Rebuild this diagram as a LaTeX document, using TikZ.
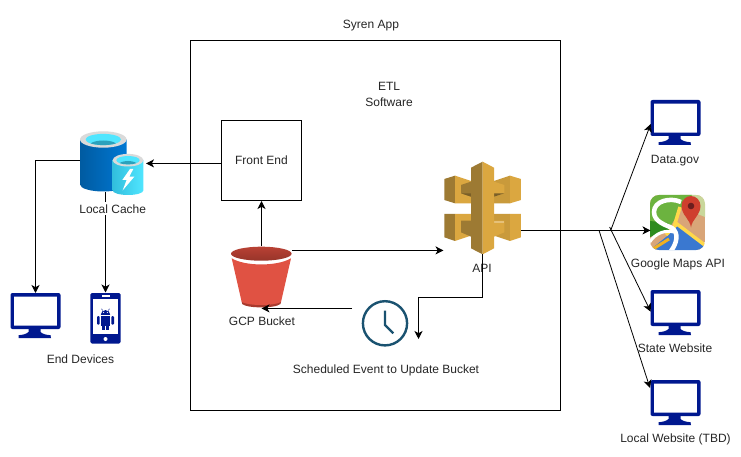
\documentclass[tikz,border=0pt]{standalone}
\usepackage{fontspec}
\setmainfont{Liberation Sans}
\usetikzlibrary{arrows.meta}
\definecolor{devblue}{HTML}{00188F}
\definecolor{gold}{HTML}{DBA740}
\definecolor{goldmid}{HTML}{C99A3B}
\definecolor{golddark}{HTML}{9D7A33}
\definecolor{goldshade}{HTML}{7A5F28}
\definecolor{redb}{HTML}{E05243}
\definecolor{redd}{HTML}{A83A2E}
\definecolor{clockc}{HTML}{1A5270}
\definecolor{cylA}{HTML}{005BA1}
\definecolor{cylB}{HTML}{0078D4}
\definecolor{cylC}{HTML}{32BEDD}
\definecolor{cylD}{HTML}{50E6FF}
\definecolor{cylRim}{HTML}{DADADA}
\definecolor{mapTan}{HTML}{D9A578}
\definecolor{mapGreen}{HTML}{6CB33F}
\definecolor{mapPale}{HTML}{C9D79B}
\definecolor{mapDark}{HTML}{2E8B1E}
\definecolor{mapBlue}{HTML}{3A78D0}
\definecolor{mapYel}{HTML}{FFD84A}
\definecolor{mapOr}{HTML}{F0B020}
\definecolor{mapPin}{HTML}{CF3F2E}
\definecolor{mapDot}{HTML}{6B1E1E}
\tikzset{
  lbltext/.style={font=\fontsize{12}{15.5}\selectfont,inner sep=0pt,align=center,text=black!85},
  lbl/.style={lbltext,text height=10pt,text depth=1pt},
  box/.style={draw=black,line width=1pt,inner sep=0pt},
  slot/.style={inner sep=0pt,outer sep=0pt,minimum width=#1},
  link/.style={line width=1pt,draw=black,-{Stealth[length=8pt,width=8pt,inset=2.2pt]}},
  thinlink/.style={line width=.8pt,draw=black,-{Stealth[length=8pt,width=8pt,inset=2.2pt]}},
  monitor/.pic={
    \fill[devblue,even odd rule,rounded corners=2pt] (0,0) rectangle (50,36)
      {[sharp corners] (3.4,3.6) rectangle (46.6,32.6)};
    \fill[devblue] (18,35) -- (30,35) -- (30,39) .. controls (32,41) and (36,42) .. (40,42.2)
      -- (40.5,45) -- (8,45) -- (8,42.2) .. controls (12,42) and (16,41) .. (18,39) -- cycle;
  }
}
\begin{document}
\begin{tikzpicture}[x=1pt,y=-1pt]
\useasboundingbox (0,0) rectangle (741,457);
\fill[white] (0,0) rectangle (741,457);

% containers
\node[box,minimum width=370pt,minimum height=369.5pt] (app) at (375.5,225.25) {};
\node[box,minimum width=80pt,minimum height=80pt] (frontend) at (261.5,160.5) {};
\node[lbl] (frontendlabel) at (261.5,160) {Front End};

% slots for icons
\node[slot=64pt,minimum height=61pt] (cache) at (112,163) {};
\node[slot=51pt,minimum height=45pt] (deskend) at (35.5,315.5) {};
\node[slot=30.4pt,minimum height=50.5pt] (phone) at (105.5,318.25) {};
\node[slot=61pt,minimum height=61.5pt] (bucket) at (261.5,276.75) {};
\node[slot=46.6pt,minimum height=46.6pt] (clock) at (385,323.3) {};
\node[slot=77pt,minimum height=93.4pt] (api) at (482.5,207.7) {};
\node[slot=50pt,minimum height=45pt] (datagov) at (675.5,122.5) {};
\node[slot=55pt,minimum height=55pt] (maps) at (677.5,222.5) {};
\node[slot=50pt,minimum height=45pt] (state) at (675.5,312.5) {};
\node[slot=50pt,minimum height=45pt] (localweb) at (675.5,402.5) {};

% cache icon
\shade[left color=cylA,right color=cylB] (80,139.5) -- (80,184.5) arc[x radius=23.3,y radius=7,start angle=180,end angle=0] -- (126.6,139.5) -- cycle;
\fill[cylRim] (103.3,139.5) ellipse[x radius=23.3,y radius=8.2];
\fill[cylD] (103.3,139.5) ellipse[x radius=17.7,y radius=5.6];
\begin{scope}
  \clip (103.3,139.5) ellipse[x radius=17.7,y radius=5.6];
  \fill[cylC!85!black] (103.3,146.5) ellipse[x radius=15,y radius=6];
\end{scope}
\shade[left color=cylC,right color=cylD] (112.7,160) -- (112.7,190.5) arc[x radius=15.3,y radius=4.5,start angle=180,end angle=0] -- (143.3,160) -- cycle;
\fill[cylRim] (128,160.2) ellipse[x radius=15.3,y radius=6.3];
\fill[cylD] (128,160.2) ellipse[x radius=11.7,y radius=4.2];
\begin{scope}
  \clip (128,160.2) ellipse[x radius=11.7,y radius=4.2];
  \fill[cylC!85!black] (128,165.5) ellipse[x radius=10,y radius=4.5];
\end{scope}
\fill[white] (130,169) -- (122.3,180) -- (126.6,180) -- (122.6,190.5) -- (134.3,176.7) -- (129.3,176.7) -- (133.3,169) -- cycle;

% end-device icons
\pic at (10.5,293) {monitor};
\pic at (650.5,100) {monitor};
\pic at (650.5,290) {monitor};
\pic at (650.5,380) {monitor};

% phone
\fill[devblue,rounded corners=1.5pt] (90.3,293) rectangle (120.7,343.5);
\fill[white] (93,299) rectangle (118,334);
\fill[white] (101.5,295.3) rectangle (109.5,296.6);
\fill[white] (105.5,339) circle (2);
\begin{scope}[devblue]
  \fill (100.8,314.8) arc[start angle=180,end angle=360,radius=4.7] -- cycle;
  \fill (100.8,315.8) rectangle (110.2,326);
  \fill[rounded corners=.8pt] (97,316.2) rectangle (99.6,324.5);
  \fill[rounded corners=.8pt] (111.4,316.2) rectangle (114,324.5);
  \fill (102.2,326) rectangle (104.6,329.5);
  \fill (106.4,326) rectangle (108.8,329.5);
  \draw[line width=.5pt] (102.6,310.5) -- (101.6,308.8) (108.4,310.5) -- (109.4,308.8);
\end{scope}
\fill[white] (103.6,312.4) circle (.6) (107.4,312.4) circle (.6);

% bucket
\shade[top color=redd!70!redb,bottom color=redd!90!black] (261.3,253.7) ellipse[x radius=30.3,y radius=7];
\fill[redd] (241.7,301.7) -- (281,301.7) -- (280.5,304) .. controls (275,308.5) and (247,308.5) .. (242.2,304) -- cycle;
\fill[redb] (231.7,258.3) .. controls (245,266.5) and (277.5,266.5) .. (291,258.3)
  -- (281,302) .. controls (274,306) and (249,306) .. (241.7,302) -- cycle;

% clock
\draw[clockc,line width=2.4pt] (385,323.3) circle (22.1);
\draw[clockc,line width=2.4pt] (385,310.7) -- (385,325) -- (393.3,333.3);

% API icon
\begin{scope}[shift={(435,155)},x=.3333pt,y=-.3333pt]
  % upper left
  \fill[golddark] (28,72) -- (60,62) -- (60,145) -- (28,135) -- cycle;
  \fill[gold] (60,62) -- (108,78) -- (108,145) -- (60,145) -- cycle;
  \fill[golddark] (78,90) -- (108,80) -- (108,125) -- (78,115) -- cycle;
  \fill[goldshade] (78,115) -- (108,115) -- (108,125) -- cycle;
  % upper right
  \fill[gold] (258,72) -- (225,62) -- (225,145) -- (258,135) -- cycle;
  \fill[goldmid] (225,62) -- (177,78) -- (177,145) -- (225,145) -- cycle;
  \fill[gold] (208,90) -- (177,80) -- (177,125) -- (208,115) -- cycle;
  \fill[goldshade] (208,115) -- (177,115) -- (177,125) -- cycle;
  % lower left
  \fill[golddark] (28,177) -- (60,177) -- (60,258) -- (28,247) -- cycle;
  \fill[gold] (60,177) -- (108,177) -- (108,242) -- (60,258) -- cycle;
  \fill[golddark] (78,197) -- (108,197) -- (108,245) -- (78,232) -- cycle;
  % lower right
  \fill[gold] (258,177) -- (225,177) -- (225,258) -- (258,247) -- cycle;
  \fill[goldmid] (225,177) -- (177,177) -- (177,242) -- (225,258) -- cycle;
  \fill[gold] (208,197) -- (177,197) -- (177,245) -- (208,232) -- cycle;
  \fill[gold!70!white] (178,197) -- (208,197) -- (208,204) -- (178,204) -- cycle;
  % column
  \fill[golddark] (108,38) -- (143,20) -- (143,298) -- (108,280) -- cycle;
  \fill[gold] (143,20) -- (177,38) -- (177,280) -- (143,298) -- cycle;
\end{scope}

% maps icon
\begin{scope}[shift={(650,195)}]
  \begin{scope}
    \clip[rounded corners=9pt] (0,0) rectangle (55,55);
    \fill[mapTan] (0,0) rectangle (55,55);
    \fill[mapPale] (30,0) -- (55,0) -- (55,22) -- (30,12) -- cycle;
    \fill[mapGreen] (0,0) -- (42,0) -- (32,12) -- (20,32) -- (0,40) -- cycle;
    \fill[mapDark] (0,26) -- (18,28) -- (20,36) -- (0,42) -- cycle;
    \fill[mapBlue] (0,55) -- (16,42) -- (28,30) -- (55,52) -- (55,55) -- cycle;
    \draw[mapYel,line width=3.5pt] (30,12) -- (24,32);
    \draw[mapYel,line width=3.5pt] (16,40) -- (27,29) -- (56,51);
    \draw[mapOr,line width=3pt] (3,54) -- (19,44);
    \draw[white,line width=4.5pt] (31,7) .. controls (20,2) and (4,6) .. (4,17) .. controls (4,27) and (16,30) .. (22,33) .. controls (29,38) and (27,48) .. (21,56);
    \draw[white,line width=3pt] (-1,48) .. controls (6,37) and (16,35) .. (24,37);
  \end{scope}
  \fill[mapPin] (41,32.5) .. controls (40,24) and (31.5,20) .. (31.5,11) arc[start angle=180,end angle=360,x radius=9.5,y radius=10] .. controls (50.5,20) and (42,24) .. (41,32.5) -- cycle;
  \fill[mapDot] (41,11) circle (3.3);
\end{scope}

% labels behind connectors
\node[lbl] (title) at (371,24) {Syren App};
\node[lbltext] (etl) at (389,94.5) {ETL\\Software};
\node[lbl] (enddev) at (80.5,359) {End Devices};
\node[lbl] (bucketlabel) at (262,321) {GCP Bucket};
\node[lbl] (apilabel) at (482,268) {API};
\node[lbl] (clocklabel) at (386,369) {Scheduled Event to Update Bucket};
\node[lbl] (datalabel) at (675,159) {Data.gov};
\node[lbl] (mapslabel) at (678,263) {Google Maps API};
\node[lbl] (statelabel) at (675,348) {State Website};
\node[lbl] (locallabel) at (675.5,438) {Local Website (TBD)};

% connector ports
\coordinate (frontout) at (221.5,163.4);
\coordinate (cachein) at (146,163.4);
\coordinate (cacheleft) at (80,160.5);
\coordinate (cachedown) at (105.5,192);
\coordinate (deskin) at (35.5,293);
\coordinate (phonein) at (105.5,292.5);
\coordinate (bucketright) at (292,250.4);
\coordinate (apiin) at (443.5,250.4);
\coordinate (clockout) at (352,308.4);
\coordinate (bucketin) at (261.5,308.4);
\coordinate (apidown) at (482.5,254);
\coordinate (bendapi) at (482.5,297);
\coordinate (clockin) at (418.5,339);
\coordinate (apiout) at (521,230.4);
\coordinate (hub) at (610.7,230.4);
\coordinate (hubb) at (609.6,227);
\coordinate (hubc) at (599,230.4);
\coordinate (mapsin) at (650.5,230.4);
\coordinate (datain) at (650.7,124);
\coordinate (statein) at (650.7,311.7);
\coordinate (localin) at (650,388);

% connectors
\draw[link] (frontout) -- (cachein);
\draw[link] (cacheleft) -| (deskin);
\draw[link] (cachedown) -- (phonein);
\draw[link] (bucket.north) -- (frontend.south);
\draw[link] (bucketright) -- (apiin);
\draw[link] (clockout) -- (bucketin);
\draw[link] (apidown) -- (bendapi) -| (clockin);
\draw[link] (apiout) -- (mapsin);
\draw[thinlink] (hub) -- (datain);
\draw[thinlink] (hubb) -- (statein);
\draw[thinlink] (hubc) -- (localin);

% label that interrupts its connector
\node[lbl,fill=white,inner sep=1pt] (cachelabel) at (112.7,208.5) {Local Cache};
\end{tikzpicture}
\end{document}
